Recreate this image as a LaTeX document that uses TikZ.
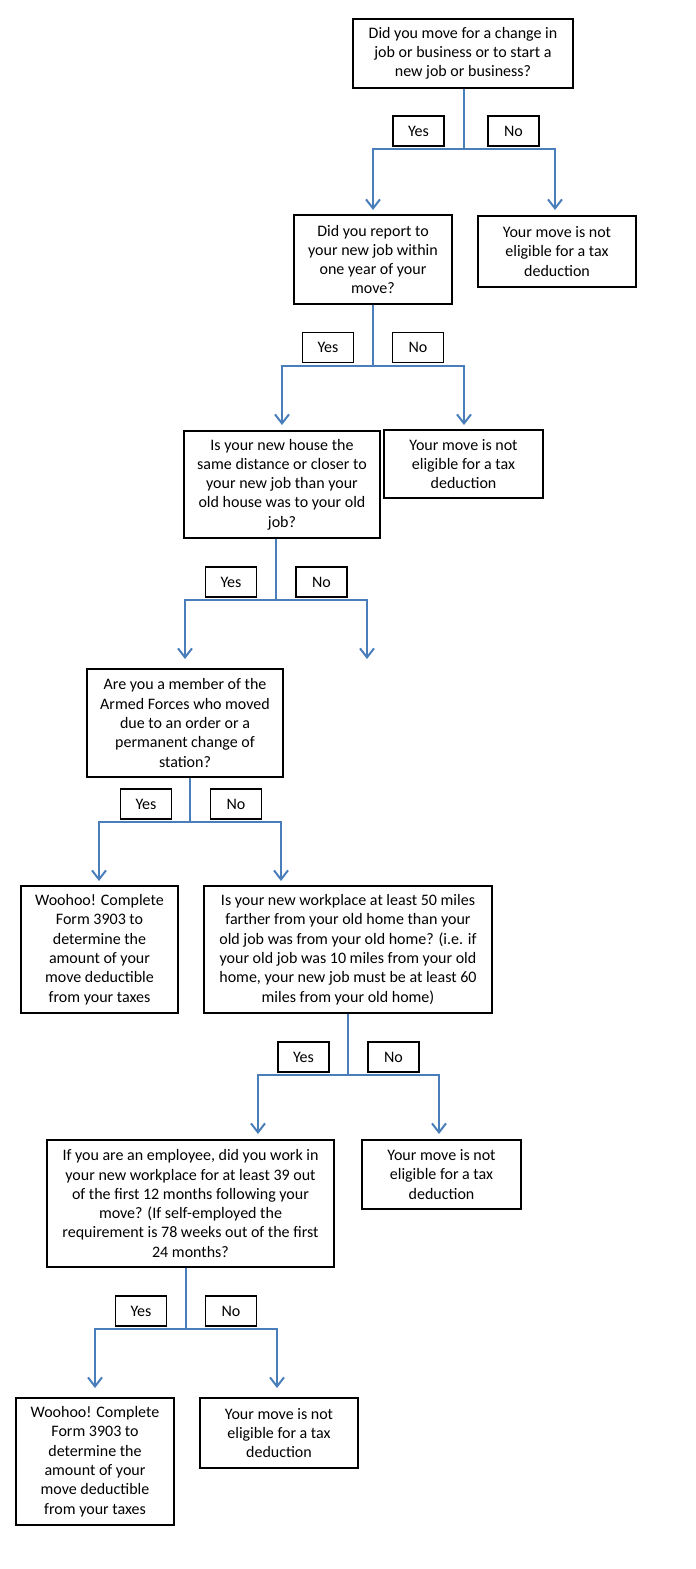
\documentclass[tikz,border=0pt]{standalone}
\usepackage{fontspec}
\setmainfont{Carlito}
\usetikzlibrary{arrows.meta}
\definecolor{flowblue}{RGB}{74,126,187}
\begin{document}
\begin{tikzpicture}[x=1pt,y=-1pt,
  txt/.style={font=\fontsize{16}{19.3}\selectfont},
  box/.style={txt, draw=black, line width=1.4pt, align=center, inner sep=0pt},
  lab/.style={txt, draw=black, line width=1.4pt, minimum width=51pt, minimum height=30pt, inner sep=0pt},
  flow/.style={draw=flowblue, line width=2pt},
  flowarrow/.style={flow, -{Straight Barb[length=9pt,width=14pt,line width=2pt]}}]
\useasboundingbox (0,0) rectangle (696,1569);

% boxes
\node[box, minimum width=220pt, minimum height=69pt] (B1) at (463,53.5)
  {Did you move for a change in\\job or business or to start a\\new job or business?};
\node[box, minimum width=158pt, minimum height=89pt] (B2) at (373,259.5)
  {Did you report to\\your new job within\\one year of your\\move?};
\node[box, minimum width=158pt, minimum height=71pt] (B2R) at (557,251.5)
  {Your move is not\\eligible for a tax\\deduction};
\node[box, minimum width=196pt, minimum height=107pt] (B3) at (282,484.5)
  {Is your new house the\\same distance or closer to\\your new job than your\\old house was to your old\\job?};
\node[box, minimum width=159pt, minimum height=68pt] (B3R) at (463.5,464)
  {Your move is not\\eligible for a tax\\deduction};
\node[box, minimum width=196pt, minimum height=108pt] (B4) at (185,723)
  {Are you a member of the\\Armed Forces who moved\\due to an order or a\\permanent change of\\station?};
\node[box, minimum width=157pt, minimum height=127pt] (B5L) at (99.5,949.5)
  {Woohoo! Complete\\Form 3903 to\\determine the\\amount of your\\move deductible\\from your taxes};
\node[box, minimum width=288pt, minimum height=127pt] (B5R) at (348,949.5)
  {Is your new workplace at least 50 miles\\farther from your old home than your\\old job was from your old home? (i.e. if\\your old job was 10 miles from your old\\home, your new job must be at least 60\\miles from your old home)};
\node[box, minimum width=287pt, minimum height=127pt] (B6L) at (190.5,1203.5)
  {If you are an employee, did you work in\\your new workplace for at least 39 out\\of the first 12 months following your\\move? (If self-employed the\\requirement is 78 weeks out of the first\\24 months?};
\node[box, minimum width=159pt, minimum height=69pt] (B6R) at (441.5,1174.5)
  {Your move is not\\eligible for a tax\\deduction};
\node[box, minimum width=158pt, minimum height=127pt] (B7L) at (95,1461.5)
  {Woohoo! Complete\\Form 3903 to\\determine the\\amount of your\\move deductible\\from your taxes};
\node[box, minimum width=158pt, minimum height=70pt] (B7R) at (279,1433)
  {Your move is not\\eligible for a tax\\deduction};

% Yes / No labels
\node[lab] (Y1) at (418.5,131) {Yes};
\node[lab] (N1) at (513.5,131) {No};
\node[lab] (Y2) at (328,347.5) {Yes};
\node[lab] (N2) at (418,347.5) {No};
\node[lab] (Y3) at (231,582) {Yes};
\node[lab] (N3) at (321.5,582) {No};
\node[lab] (Y4) at (146,804) {Yes};
\node[lab] (N4) at (236,804) {No};
\node[lab] (Y5) at (303.5,1057) {Yes};
\node[lab] (N5) at (393.5,1057) {No};
\node[lab] (Y6) at (141,1311) {Yes};
\node[lab] (N6) at (231,1311) {No};

% junctions
\coordinate (h1) at (464,149);
\coordinate (h2) at (373,366);
\coordinate (h3) at (276,600);
\coordinate (h4) at (190,822);
\coordinate (h5) at (348,1075);
\coordinate (h6) at (186,1329);

% arrow tips
\coordinate (t1l) at (373,210);  \coordinate (t1r) at (555,210);
\coordinate (t2l) at (282,425);  \coordinate (t2r) at (464,425);
\coordinate (t3l) at (185,659);  \coordinate (t3r) at (367,659);
\coordinate (t4l) at (99,881);   \coordinate (t4r) at (281,881);
\coordinate (t5l) at (258,1134); \coordinate (t5r) at (439,1134);
\coordinate (t6l) at (95,1388);  \coordinate (t6r) at (277,1388);

% connectors
\foreach \b/\h in {B1/h1, B2/h2, B3/h3, B4/h4, B5R/h5, B6L/h6}
  \draw[flow] (\b.south -| \h) -- (\h);
\foreach \i in {1,...,6}{
  \draw[flowarrow] (h\i) -| (t\i l);
  \draw[flowarrow] (h\i) -| (t\i r);
}
\end{tikzpicture}
\end{document}
